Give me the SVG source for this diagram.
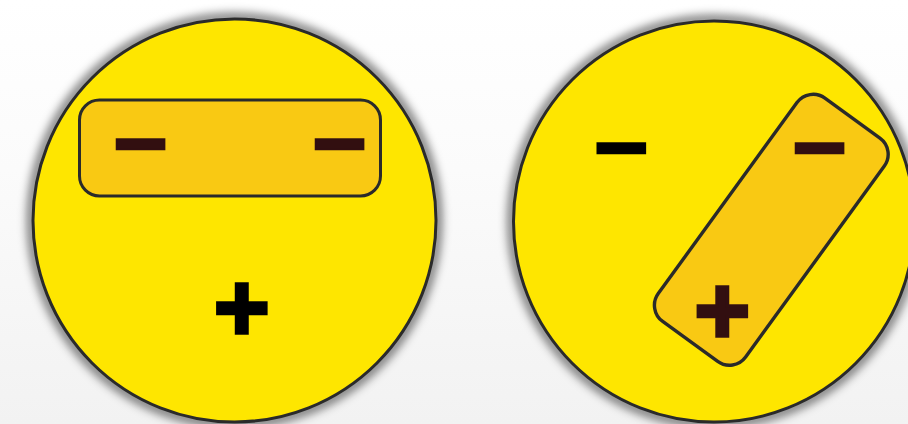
<svg xmlns="http://www.w3.org/2000/svg" width="908" height="424" viewBox="0 0 908 424">
<defs>
<linearGradient id="bg" x1="0" y1="0" x2="0" y2="1">
<stop offset="0" stop-color="#ffffff"/>
<stop offset="0.4" stop-color="#fbfbfb"/>
<stop offset="1" stop-color="#f2f2f2"/>
</linearGradient>
<filter id="sh" x="-20%" y="-20%" width="140%" height="140%">
<feGaussianBlur stdDeviation="5"/>
</filter>
<style>
.disc{fill:#fee600;stroke:#2a2a2a;stroke-width:3}
.halo{fill:none;stroke:#000;stroke-opacity:0.55;stroke-width:9}
.cell{fill:#f9c913;stroke:#2a2a2a;stroke-width:3}
.sign{font-family:"Liberation Sans",Arial,sans-serif;font-weight:bold;font-size:96px;text-anchor:middle;stroke-linejoin:miter}
.dark{fill:#320f10;stroke:#320f10}
.blk{fill:#000;stroke:#000}
</style>
</defs>
<rect width="908" height="424" fill="url(#bg)"/>
<g id="left-disc">
<circle cx="234.5" cy="220.5" r="203" class="halo" filter="url(#sh)"/>
<circle cx="234.5" cy="220.5" r="201.5" class="disc"/>
<g id="left-cell">
<rect x="79.5" y="100" width="301" height="96" rx="20" class="cell"/>
<text x="140.5" y="176" class="sign dark" stroke-width="1.5">−</text>
<text x="339.5" y="176" class="sign dark" stroke-width="1.5">−</text>
</g>
<text id="left-plus" x="241.7" y="341" class="sign blk" stroke-width="3.4">+</text>
</g>
<g id="right-disc">
<circle cx="714" cy="221.5" r="202" class="halo" filter="url(#sh)"/>
<circle cx="714" cy="221.5" r="200.5" class="disc"/>
<text id="right-minus" x="621.3" y="179.5" class="sign blk" stroke-width="1.5">−</text>
<g id="right-cell">
<rect x="-138" y="-54" width="276" height="108" rx="20" class="cell" style="stroke-width:3.4" transform="translate(771.3 229.8) rotate(-54)"/>
<text x="819.5" y="179.5" class="sign dark" stroke-width="1.5">−</text>
<text x="722.3" y="343.5" class="sign dark" stroke-width="3.4">+</text>
</g>
</g>
<g id="connectors"/>
</svg>
